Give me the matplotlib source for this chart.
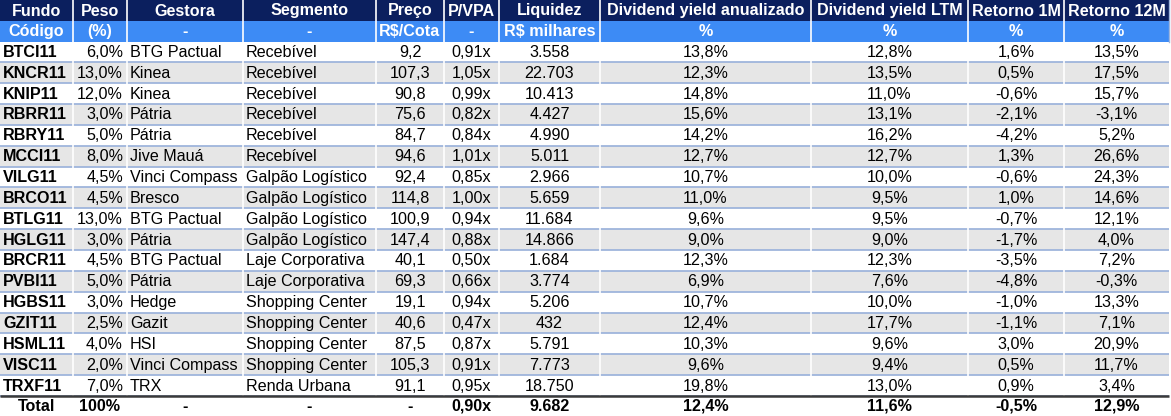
import matplotlib.pyplot as plt
from matplotlib.patches import Rectangle

plt.rcParams['font.family'] = ['Liberation Sans', 'DejaVu Sans']

# header texts
head1 = ["Fundo", "Peso", "Gestora", "Segmento", "Preço", "P/VPA", "Liquidez",
         "Dividend yield anualizado", "Dividend yield LTM", "Retorno 1M", "Retorno 12M"]
head2 = ["Código", "(%)", "-", "-", "R$/Cota", "-", "R$ milhares", "%", "%", "%", "%"]

# table data
fundo = ["BTCI11", "KNCR11", "KNIP11", "RBRR11", "RBRY11", "MCCI11", "VILG11", "BRCO11",
         "BTLG11", "HGLG11", "BRCR11", "PVBI11", "HGBS11", "GZIT11", "HSML11", "VISC11", "TRXF11"]
peso = ["6,0%", "13,0%", "12,0%", "3,0%", "5,0%", "8,0%", "4,5%", "4,5%",
        "13,0%", "3,0%", "4,5%", "5,0%", "3,0%", "2,5%", "4,0%", "2,0%", "7,0%"]
gestora = ["BTG Pactual", "Kinea", "Kinea", "Pátria", "Pátria", "Jive Mauá", "Vinci Compass",
           "Bresco", "BTG Pactual", "Pátria", "BTG Pactual", "Pátria", "Hedge", "Gazit", "HSI",
           "Vinci Compass", "TRX"]
segmento = ["Recebível"] * 6 + ["Galpão Logístico"] * 4 + ["Laje Corporativa"] * 2 + \
           ["Shopping Center"] * 4 + ["Renda Urbana"]
preco = ["9,2", "107,3", "90,8", "75,6", "84,7", "94,6", "92,4", "114,8",
         "100,9", "147,4", "40,1", "69,3", "19,1", "40,6", "87,5", "105,3", "91,1"]
pvpa = ["0,91x", "1,05x", "0,99x", "0,82x", "0,84x", "1,01x", "0,85x", "1,00x",
        "0,94x", "0,88x", "0,50x", "0,66x", "0,94x", "0,47x", "0,87x", "0,91x", "0,95x"]
liquidez = ["3.558", "22.703", "10.413", "4.427", "4.990", "5.011", "2.966", "5.659",
            "11.684", "14.866", "1.684", "3.774", "5.206", "432", "5.791", "7.773", "18.750"]
dy_anual = ["13,8%", "12,3%", "14,8%", "15,6%", "14,2%", "12,7%", "10,7%", "11,0%",
            "9,6%", "9,0%", "12,3%", "6,9%", "10,7%", "12,4%", "10,3%", "9,6%", "19,8%"]
dy_ltm = ["12,8%", "13,5%", "11,0%", "13,1%", "16,2%", "12,7%", "10,0%", "9,5%",
          "9,5%", "9,0%", "12,3%", "7,6%", "10,0%", "17,7%", "9,6%", "9,4%", "13,0%"]
ret_1m = ["1,6%", "0,5%", "-0,6%", "-2,1%", "-4,2%", "1,3%", "-0,6%", "1,0%",
          "-0,7%", "-1,7%", "-3,5%", "-4,8%", "-1,0%", "-1,1%", "3,0%", "0,5%", "0,9%"]
ret_12m = ["13,5%", "17,5%", "15,7%", "-3,1%", "5,2%", "26,6%", "24,3%", "14,6%",
           "12,1%", "4,0%", "7,2%", "-0,3%", "13,3%", "7,1%", "20,9%", "11,7%", "3,4%"]
total = ["Total", "100%", "-", "-", "-", "0,90x", "9.682", "12,4%", "11,6%", "-0,5%", "12,9%"]

cols = [fundo, peso, gestora, segmento, preco, pvpa, liquidez, dy_anual, dy_ltm, ret_1m, ret_12m]

# layout
edges = [0, 73, 127, 243, 376, 444, 499, 600, 811, 968, 1064, 1169]
align = ["left", "right", "left", "left", "center", "center", "center",
         "center", "center", "center", "center"]
h1_top, h1_bot = 0, 21
h2_bot = 41.5
row_h = 20.85
navy = "#0b1f5e"
blue = "#3d8bf5"
grey = "#e6e6e6"
line_blue = "#9fb5dc"

fig = plt.figure(figsize=(11.71, 4.16), dpi=100)
ax = fig.add_axes([0, 0, 1, 1])
ax.set_xlim(0, 1171)
ax.set_ylim(416, 0)
ax.axis("off")

fs = 11.6
fs_head = 11.6


def text_x(c):
    if align[c] == "left":
        return edges[c] + 3
    if align[c] == "right":
        return edges[c + 1] - 4
    return (edges[c] + edges[c + 1]) / 2


# header rows
ax.add_patch(Rectangle((0, h1_top), edges[-1], h1_bot - h1_top, color=navy, lw=0))
ax.add_patch(Rectangle((0, h1_bot), edges[-1], h2_bot - h1_bot, color=blue, lw=0))
for c in range(len(head1)):
    xm = (edges[c] + edges[c + 1]) / 2
    ax.text(xm, (h1_top + h1_bot) / 2 + 0.5, head1[c], ha="center", va="center",
            color="white", fontweight="bold", fontsize=fs_head)
    ax.text(xm, (h1_bot + h2_bot) / 2 + 0.5, head2[c], ha="center", va="center",
            color="white", fontweight="bold", fontsize=fs_head)

# data rows
n = len(fundo)
for r in range(n):
    y0 = h2_bot + r * row_h
    if r % 2 == 1:
        ax.add_patch(Rectangle((0, y0), edges[-1], row_h, color=grey, lw=0))
    ax.plot([0, edges[-1]], [y0 + row_h, y0 + row_h], color=line_blue, lw=1.3,
            solid_capstyle="butt")
    for c, col in enumerate(cols):
        ax.text(text_x(c), y0 + row_h / 2 + 0.5, col[r], ha=align[c], va="center",
                color="black", fontsize=fs, fontweight="bold" if c == 0 else "normal")

# vertical separators
y_end = h2_bot + n * row_h
for x in edges[1:-1]:
    ax.plot([x, x], [0, y_end], color="white", lw=1.2, solid_capstyle="butt")
ax.plot([edges[-1], edges[-1]], [0, h2_bot], color=line_blue, lw=1)

# total row
ax.plot([0, edges[-1]], [y_end, y_end], color="#3a3a3a", lw=1.8, solid_capstyle="butt")
for c, t in enumerate(total):
    ax.text((edges[c] + edges[c + 1]) / 2, y_end + 10.5, t, ha="center", va="center",
            color="black", fontsize=fs, fontweight="bold")

fig.savefig("out.png", dpi=100)
